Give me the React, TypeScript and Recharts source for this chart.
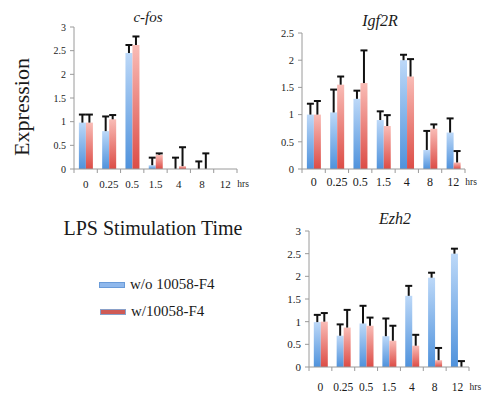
import React from 'react';
import { BarChart, Bar, XAxis, YAxis } from 'recharts';

const hours = ['0', '0.25', '0.5', '1.5', '4', '8', '12'];

// c-fos
const cfosWithout = [0.98, 0.8, 2.45, 0.08, 0, 0, 0];
const cfosWithoutErr = [0.17, 0.31, 0.17, 0.16, 0.24, 0.16, 0];
const cfosWith = [0.98, 1.05, 2.62, 0.3, 0.06, 0, 0];
const cfosWithErr = [0.17, 0.09, 0.18, 0.03, 0.4, 0.33, 0];

// Igf2R
const igfWithout = [1.0, 1.04, 1.29, 0.9, 2.0, 0.35, 0.67];
const igfWithoutErr = [0.2, 0.42, 0.15, 0.16, 0.1, 0.35, 0.26];
const igfWith = [1.0, 1.55, 1.58, 0.79, 1.7, 0.74, 0.12];
const igfWithErr = [0.25, 0.15, 0.6, 0.2, 0.32, 0.08, 0.21];

// Ezh2
const ezhWithout = [0.99, 0.69, 0.96, 0.68, 1.57, 1.97, 2.5];
const ezhWithoutErr = [0.16, 0.25, 0.39, 0.39, 0.22, 0.11, 0.11];
const ezhWith = [1.0, 0.87, 0.91, 0.58, 0.47, 0.15, 0];
const ezhWithErr = [0.19, 0.39, 0.18, 0.33, 0.24, 0.27, 0.13];

const ticks3 = [0, 0.5, 1, 1.5, 2, 2.5, 3];
const ticks25 = [0, 0.5, 1, 1.5, 2, 2.5];

const serif = '"Liberation Serif", "Times New Roman", serif';
const axisGrey = '#9a9a9a';

function rows(a: number[], ae: number[], b: number[], be: number[]) {
  return hours.map((t, i) => ({ t, a: a[i], ae: ae[i], b: b[i], be: be[i] }));
}

function ErrT(props: any) {
  const { x, y, width, height } = props;
  if (!height || height < 0.5) return null;
  const cx = x + width / 2;
  return (
    <g>
      <line x1={cx} x2={cx} y1={y + height} y2={y} stroke="#111" strokeWidth={2} />
      <line x1={cx - 3.5} x2={cx + 3.5} y1={y} y2={y} stroke="#111" strokeWidth={2} />
    </g>
  );
}

function XTick(props: any) {
  const { x, y, payload, index, band, fs, dy } = props;
  const last = index === hours.length - 1;
  return (
    <g>
      <line x1={x - band / 2} x2={x - band / 2} y1={y} y2={y + 4} stroke={axisGrey} />
      {last && <line x1={x + band / 2} x2={x + band / 2} y1={y} y2={y + 4} stroke={axisGrey} />}
      <text x={x} y={y + dy} textAnchor="middle" dominantBaseline="central" fontSize={fs} fontFamily={serif} fill="#1a1a1a">
        {payload.value}
      </text>
      {last && (
        <text x={x + 12} y={y + dy} dominantBaseline="central" fontSize={9.5} fontFamily={serif} fill="#1a1a1a">
          hrs
        </text>
      )}
    </g>
  );
}

function Panel(p: any) {
  const band = p.plotW / hours.length;
  return (
    <div style={{ position: 'absolute', left: p.left, top: p.top }}>
      <BarChart width={p.w} height={p.h} data={p.data} margin={p.margin} barCategoryGap="21%" barGap={0}>
        <defs>
          <linearGradient id={p.id + 'b'} x1="0" y1="0" x2="0" y2="1">
            <stop offset="0%" stopColor="#bcd8f8" />
            <stop offset="100%" stopColor="#4f92dc" />
          </linearGradient>
          <linearGradient id={p.id + 'r'} x1="0" y1="0" x2="0" y2="1">
            <stop offset="0%" stopColor="#f9bcb6" />
            <stop offset="100%" stopColor="#dc4c46" />
          </linearGradient>
        </defs>
        <XAxis dataKey="t" interval={0} height={p.xh} axisLine={{ stroke: axisGrey }} tickLine={false} tickSize={0} tickMargin={0}
          tick={(tp: any) => <XTick {...tp} band={band} fs={p.xfs} dy={p.dy} />} />
        <YAxis type="number" domain={[0, p.max]} ticks={p.ticks} interval={0} width={40} tickSize={4} tickMargin={4}
          axisLine={{ stroke: axisGrey }} tickLine={{ stroke: axisGrey }}
          tick={{ fontSize: p.yfs, fontFamily: serif, fill: '#1a1a1a' }} />
        <Bar dataKey="a" stackId="a" fill={`url(#${p.id}b)`} isAnimationActive={false} />
        <Bar dataKey="ae" stackId="a" fill="transparent" shape={ErrT} isAnimationActive={false} />
        <Bar dataKey="b" stackId="b" fill={`url(#${p.id}r)`} isAnimationActive={false} />
        <Bar dataKey="be" stackId="b" fill="transparent" shape={ErrT} isAnimationActive={false} />
      </BarChart>
    </div>
  );
}

const abs = (x: number, y: number, extra: any = {}) => ({
  position: 'absolute' as const, left: x, top: y, transform: 'translate(-50%, -50%)', whiteSpace: 'nowrap' as const,
  fontFamily: serif, color: '#1a1a1a', ...extra,
});

export default function App() {
  return (
    <div style={{ position: 'relative', width: 486, height: 394, background: '#fff', overflow: 'hidden' }}>
      <style>{'body{margin:0}'}</style>
      <Panel id="cf" left={0} top={0} w={250} h={200} plotW={163} xh={30} max={3} ticks={ticks3}
        margin={{ top: 27, right: 13, bottom: 1, left: 34 }} xfs={11} yfs={10} dy={15}
        data={rows(cfosWithout, cfosWithoutErr, cfosWith, cfosWithErr)} />
      <Panel id="ig" left={250} top={0} w={236} h={200} plotW={163} xh={30} max={2.5} ticks={ticks25}
        margin={{ top: 33, right: 21, bottom: 1, left: 12 }} xfs={12} yfs={10.5} dy={13}
        data={rows(igfWithout, igfWithoutErr, igfWith, igfWithErr)} />
      <Panel id="ez" left={250} top={200} w={236} h={194} plotW={160} xh={26} max={3} ticks={ticks3}
        margin={{ top: 31, right: 17, bottom: 1, left: 19 }} xfs={11.5} yfs={11} dy={20}
        data={rows(ezhWithout, ezhWithoutErr, ezhWith, ezhWithErr)} />

      <div style={abs(148, 17, { fontSize: 15, fontStyle: 'italic' })}>c-fos</div>
      <div style={abs(380, 21, { fontSize: 16, fontStyle: 'italic' })}>Igf2R</div>
      <div style={abs(395, 219, { fontSize: 16, fontStyle: 'italic' })}>Ezh2</div>

      <div style={abs(22, 107, { fontSize: 22, transform: 'translate(-50%, -50%) rotate(-90deg)' })}>Expression</div>
      <div style={abs(153, 228, { fontSize: 20 })}>LPS Stimulation Time</div>

      <div style={{ position: 'absolute', left: 99, top: 282, width: 24, height: 4, background: '#8fb8ec', border: '1px solid #6a9bd8' }} />
      <div style={{ position: 'absolute', left: 130, top: 276, fontSize: 15, fontFamily: serif, color: '#1a1a1a', lineHeight: '17px' }}>w/o 10058-F4</div>
      <div style={{ position: 'absolute', left: 100, top: 309, width: 24, height: 4, background: '#cf5a55', border: '1px solid #8aa0c8' }} />
      <div style={{ position: 'absolute', left: 131, top: 303, fontSize: 15, fontFamily: serif, color: '#1a1a1a', lineHeight: '17px' }}>w/10058-F4</div>
    </div>
  );
}
